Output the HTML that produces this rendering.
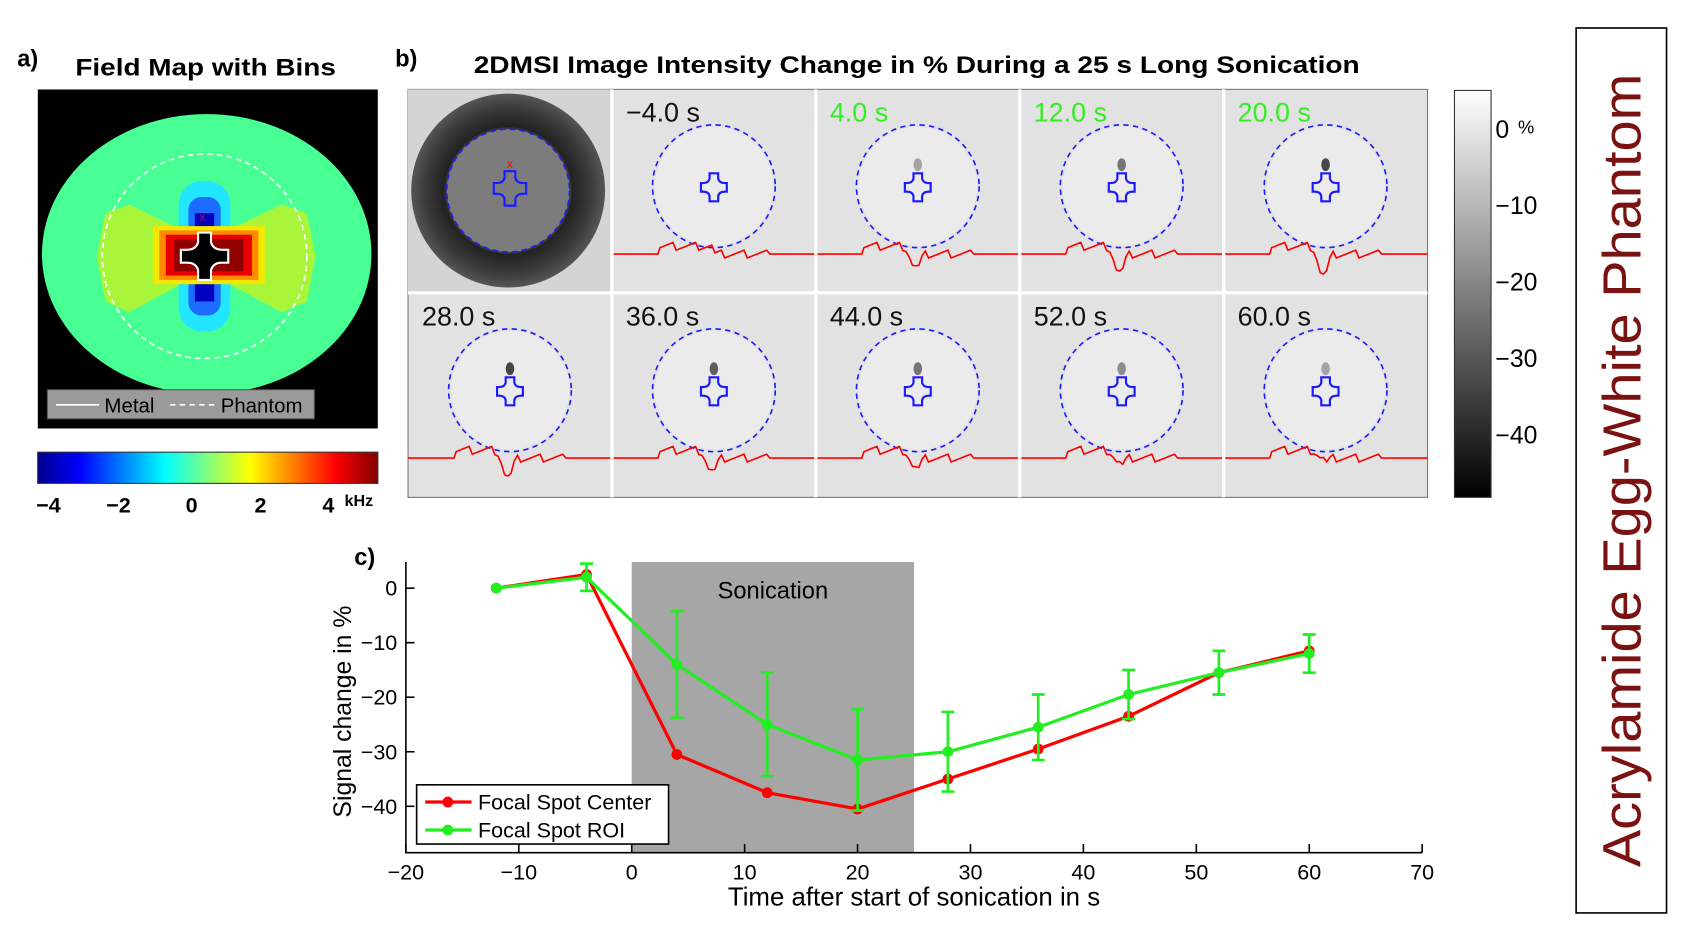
<!DOCTYPE html>
<html><head><meta charset="utf-8"><style>
html,body{margin:0;padding:0;background:#fff;}
svg{display:block;font-family:"Liberation Sans",Arial,sans-serif;}
</style></head><body>
<svg id="fig" width="1687" height="949" viewBox="0 0 1567 881.5" preserveAspectRatio="none" xmlns="http://www.w3.org/2000/svg">
<defs>
<linearGradient id="jet" x1="0" x2="1" y1="0" y2="0">
<stop offset="0" stop-color="#00008f"/><stop offset="0.125" stop-color="#0000ff"/><stop offset="0.375" stop-color="#00ffff"/><stop offset="0.625" stop-color="#ffff00"/><stop offset="0.875" stop-color="#ff0000"/><stop offset="1" stop-color="#800000"/>
</linearGradient>
<linearGradient id="gray" x1="0" x2="0" y1="0" y2="1"><stop offset="0" stop-color="#fff"/><stop offset="1" stop-color="#000"/></linearGradient>
<radialGradient id="ring" cx="0.5" cy="0.5" r="0.5"><stop offset="0" stop-color="#8a8a8a"/><stop offset="0.62" stop-color="#5a5a5a"/><stop offset="0.66" stop-color="#222"/><stop offset="0.85" stop-color="#3a3a3a"/><stop offset="1" stop-color="#555"/></radialGradient>
<clipPath id="fmclip"><rect x="35" y="83" width="316" height="315"/></clipPath>
</defs>

<!-- Panel a -->
<text x="16" y="62" font-size="22" font-weight="bold">a)</text>
<text x="70" y="70" font-size="22" font-weight="bold" textLength="242" lengthAdjust="spacingAndGlyphs">Field Map with Bins</text>
<g clip-path="url(#fmclip)">
<rect x="35" y="83" width="316" height="315" fill="#000"/>
<ellipse cx="192" cy="236" rx="153" ry="130" fill="#48ff94"/>
<path d="M190,224 L120,190 L98,198 L90,238 L98,280 L120,290 L190,252Z" fill="#a8f53a"/>
<path d="M190,224 L262,190 L285,198 L293,238 L285,280 L262,290 L190,252Z" fill="#a8f53a"/>
<rect x="166" y="168" width="48" height="140" rx="22" fill="#22e6ff"/>
<rect x="175" y="183" width="30" height="110" rx="12" fill="#1c6cff"/>
<rect x="181" y="198" width="18" height="82" fill="#0000c0"/>
<rect x="142" y="210" width="104" height="54" fill="#f5e800"/>
<rect x="148" y="214" width="92" height="46" fill="#ff8a00"/>
<rect x="154" y="218" width="80" height="38" fill="#e80000"/>
<rect x="162" y="222" width="64" height="30" fill="#900000"/>
<path d="M184,216 h12 v9 q2,7 10,7 h6 v12 h-6 q-8,0 -10,7 v9 h-12 v-9 q-2,-7 -10,-7 h-6 v-12 h6 q8,0 10,-7z" fill="#000" stroke="#fff" stroke-width="2"/>
<text x="188" y="205" font-size="10" fill="#f00" text-anchor="middle">x</text>
<circle cx="190" cy="238" r="95" fill="none" stroke="#fff" stroke-width="1.5" stroke-dasharray="5,4"/>
</g>
<rect x="44" y="362" width="248" height="27" fill="#9a9a9a" stroke="#555"/>
<line x1="52" y1="376" x2="92" y2="376" stroke="#fff" stroke-width="1.5"/>
<text x="97" y="383" font-size="19">Metal</text>
<line x1="158" y1="376" x2="200" y2="376" stroke="#fff" stroke-width="1.5" stroke-dasharray="5,4"/>
<text x="205" y="383" font-size="19">Phantom</text>
<rect x="35" y="420" width="316" height="29" fill="url(#jet)" stroke="#333"/>
<g font-size="20" font-weight="bold" text-anchor="middle">
<text x="45" y="476">−4</text><text x="110" y="476">−2</text><text x="178" y="476">0</text><text x="242" y="476">2</text><text x="305" y="476">4</text>
</g>
<text x="320" y="470" font-size="15" font-weight="bold">kHz</text>

<!-- Panel b -->
<text x="367" y="62" font-size="22" font-weight="bold">b)</text>
<text x="440" y="68" font-size="22" font-weight="bold" textLength="823" lengthAdjust="spacingAndGlyphs">2DMSI Image Intensity Change in % During a 25 s Long Sonication</text>
<rect x="379" y="83" width="947" height="379" fill="#e2e2e2" stroke="#777"/>
<g id="cells"></g>
<rect x="1351" y="84" width="34" height="378" fill="url(#gray)" stroke="#333"/>
<g font-size="23">
<text x="1389" y="128">0</text><text x="1410" y="124" font-size="17">%</text>
<text x="1389" y="199">−10</text><text x="1389" y="270">−20</text><text x="1389" y="341">−30</text><text x="1389" y="412">−40</text>
</g>

<!-- side box -->
<rect x="1464" y="26" width="84" height="822" fill="#fff" stroke="#000" stroke-width="1.5"/>
<text transform="translate(1524,437) rotate(-90)" font-size="50" fill="#7a1212" text-anchor="middle" textLength="737" lengthAdjust="spacingAndGlyphs">Acrylamide Egg-White Phantom</text>

<!-- Panel c -->
<text x="329" y="525" font-size="22" font-weight="bold">c)</text>
<g id="chart"></g>
</svg>
<script>
const NS="http://www.w3.org/2000/svg";
function mk(tag,attrs,parent){const e=document.createElementNS(NS,tag);for(const k in attrs)e.setAttribute(k,attrs[k]);parent.appendChild(e);return e;}

// ---- Panel b cells ----
const cellLabels=["","−4.0 s","4.0 s","12.0 s","20.0 s","28.0 s","36.0 s","44.0 s","52.0 s","60.0 s"];
const cellGreen=[false,false,true,true,true,false,false,false,false,false];
const dipDepth=[0,0,20,25,28,26,20,17,12,8];
const spotDark=[0,0,0.3,0.5,0.7,0.7,0.6,0.5,0.4,0.3];
const cells=document.getElementById('cells');
const cw=947/5, ch=379/2;
for(let i=0;i<10;i++){
  const col=i%5,row=Math.floor(i/5);
  const x0=379+col*cw,y0=83+row*ch,cx=x0+cw/2,cy=y0+90;
  const g=mk('g',{},cells);
  
  
  if(i===0){
    mk('rect',{x:x0,y:y0,width:cw,height:ch,fill:'#d4d4d4'},g);
    mk('circle',{cx:472,cy:177,r:90,fill:'url(#ring)'},g);
    mk('circle',{cx:472,cy:177,r:57,fill:'#7c7c7c'},g);
    mk('circle',{cx:472,cy:177,r:57,fill:'none',stroke:'#1a1aff','stroke-width':1.5,'stroke-dasharray':'5,4'},g);
    mk('path',{d:`M${cx-5},${cy-14} h10 v6 q1,5 7,5 h3 v10 h-3 q-6,0 -7,5 v6 h-10 v-6 q-1,-5 -7,-5 h-3 v-10 h3 q6,0 7,-5z`,fill:'none',stroke:'#1a1aff','stroke-width':2},g);
    mk('text',{x:cx,y:cy-17,'font-size':11,fill:'#f00','text-anchor':'middle'},g).textContent='x';
  } else {
    mk('circle',{cx:cx,cy:cy,r:55,fill:'#ebebeb'},g);
    if(spotDark[i]>0) mk('ellipse',{cx:cx,cy:cy-20,rx:4,ry:6,fill:'#000',opacity:spotDark[i]},g);
    mk('circle',{cx:cx,cy:cy,r:57,fill:'none',stroke:'#1a1aff','stroke-width':1.5,'stroke-dasharray':'5,4'},g);
    mk('path',{d:`M${cx-4},${cy-12} h8 v5 q1,4 6,4 h2 v8 h-2 q-5,0 -6,4 v5 h-8 v-5 q-1,-4 -6,-4 h-2 v-8 h2 q5,0 6,-4z`,fill:'none',stroke:'#1a1aff','stroke-width':2},g);
    const ly=y0+153;
    let d=`M${x0},${ly} L${cx-52},${ly}`;
    for(let k=-50;k<=50;k+=3){
      const dip=dipDepth[i]*Math.exp(-((k+3)*(k+3))/30);
      const n=((k*37)%7-3)*1.2;
      d+=` L${cx+k},${ly+n+dip}`;
    }
    d+=` L${cx+52},${ly} L${x0+cw},${ly}`;
    mk('path',{d:d,fill:'none',stroke:'#f00','stroke-width':1.5},g);
  }
  const t=mk('text',{x:x0+13,y:y0+30,'font-size':25,fill:cellGreen[i]?'#33ee22':'#111'},g);
  t.textContent=cellLabels[i];
  if(col>0) mk('line',{x1:x0,y1:y0,x2:x0,y2:y0+ch,stroke:'#fff','stroke-width':3},g);
}
mk('line',{x1:379,y1:272,x2:1326,y2:272,stroke:'#fff','stroke-width':3},cells);

// ---- Panel c chart ----
const times=[-12,-4,4,12,20,28,36,44,52,60];
const centerVals=[0,2.5,-30.5,-37.5,-40.5,-35,-29.5,-23.5,-15.5,-11.5];
const roiVals=[0,2,-14,-25,-31.5,-30,-25.5,-19.5,-15.5,-12];
const roiErr=[0,2.5,9.8,9.5,9.3,7.3,6,4.5,4,3.5];
const xTicks=[-20,-10,0,10,20,30,40,50,60,70];
const yTicks=[0,-10,-20,-30,-40];
const sonication=[0,25];
const xMin=-20,xMax=70,yMin=-48.5,yMax=4.8;
const L=377,R=1321,T=522,B=792;
const X=v=>L+(v-xMin)/(xMax-xMin)*(R-L);
const Y=v=>B-(v-yMin)/(yMax-yMin)*(B-T);
const ch2=document.getElementById('chart');
const son=mk('rect',{x:X(sonication[0]),y:T,width:X(sonication[1])-X(sonication[0]),height:B-T,fill:'#a6a6a6'},ch2);


const st=mk('text',{x:(X(sonication[0])+X(sonication[1]))/2,y:T+34,'font-size':22,'text-anchor':'middle'},ch2);
st.textContent='Sonication';


const ax=mk('path',{d:`M${L},${T} L${L},${B} L${R},${B}`,fill:'none',stroke:'#000','stroke-width':1.5},ch2);


xTicks.forEach(v=>{
  mk('line',{x1:X(v),y1:B,x2:X(v),y2:B-8,stroke:'#000','stroke-width':1.5},ch2);
  const t=mk('text',{x:X(v),y:B+25,'font-size':20,'text-anchor':'middle'},ch2);
  t.textContent=v<0?'−'+(-v):String(v);
  
  
});
yTicks.forEach(v=>{
  mk('line',{x1:L,y1:Y(v),x2:L+8,y2:Y(v),stroke:'#000','stroke-width':1.5},ch2);
  const t=mk('text',{x:L-8,y:Y(v)+7,'font-size':20,'text-anchor':'end'},ch2);
  t.textContent=v<0?'−'+(-v):String(v);
  
  
});
const xl=mk('text',{x:849,y:841,'font-size':24,'text-anchor':'middle'},ch2);
xl.textContent='Time after start of sonication in s';


const yl=mk('text',{transform:`translate(326,${(T+B)/2+4}) rotate(-90)`,'font-size':23,'text-anchor':'middle'},ch2);
yl.textContent='Signal change in %';



function series(vals,color,name){
  const g=mk('g',{},ch2);
  
  
  mk('polyline',{points:times.map((t,i)=>X(t)+','+Y(vals[i])).join(' '),fill:'none',stroke:color,'stroke-width':3},g);
  times.forEach((t,i)=>{
    const c=mk('circle',{cx:X(t),cy:Y(vals[i]),r:5,fill:color},g);
    
    
  });
  return g;
}
series(centerVals,'#ff0000','focal-spot-center-series');
const eg=mk('g',{},ch2);


times.forEach((t,i)=>{
  if(roiErr[i]<=0) return;
  const x=X(t),y1=Y(roiVals[i]+roiErr[i]),y2=Y(roiVals[i]-roiErr[i]);
  mk('path',{d:`M${x},${y1} L${x},${y2} M${x-6},${y1} L${x+6},${y1} M${x-6},${y2} L${x+6},${y2}`,stroke:'#22ee22','stroke-width':2.5,fill:'none'},eg);
});
series(roiVals,'#22ee22','focal-spot-roi-series');

const lg=mk('g',{},ch2);


mk('rect',{x:387,y:729,width:234,height:55,fill:'#fff',stroke:'#000','stroke-width':1.5},lg);
[['#ff0000','Focal Spot Center',745],['#22ee22','Focal Spot ROI',771]].forEach(([c,lab,y])=>{
  mk('line',{x1:395,y1:y,x2:438,y2:y,stroke:c,'stroke-width':3},lg);
  mk('circle',{cx:416,cy:y,r:5,fill:c},lg);
  const t=mk('text',{x:444,y:y+7,'font-size':20},lg);
  t.textContent=lab;
  
  
});
</script>
</body></html>
